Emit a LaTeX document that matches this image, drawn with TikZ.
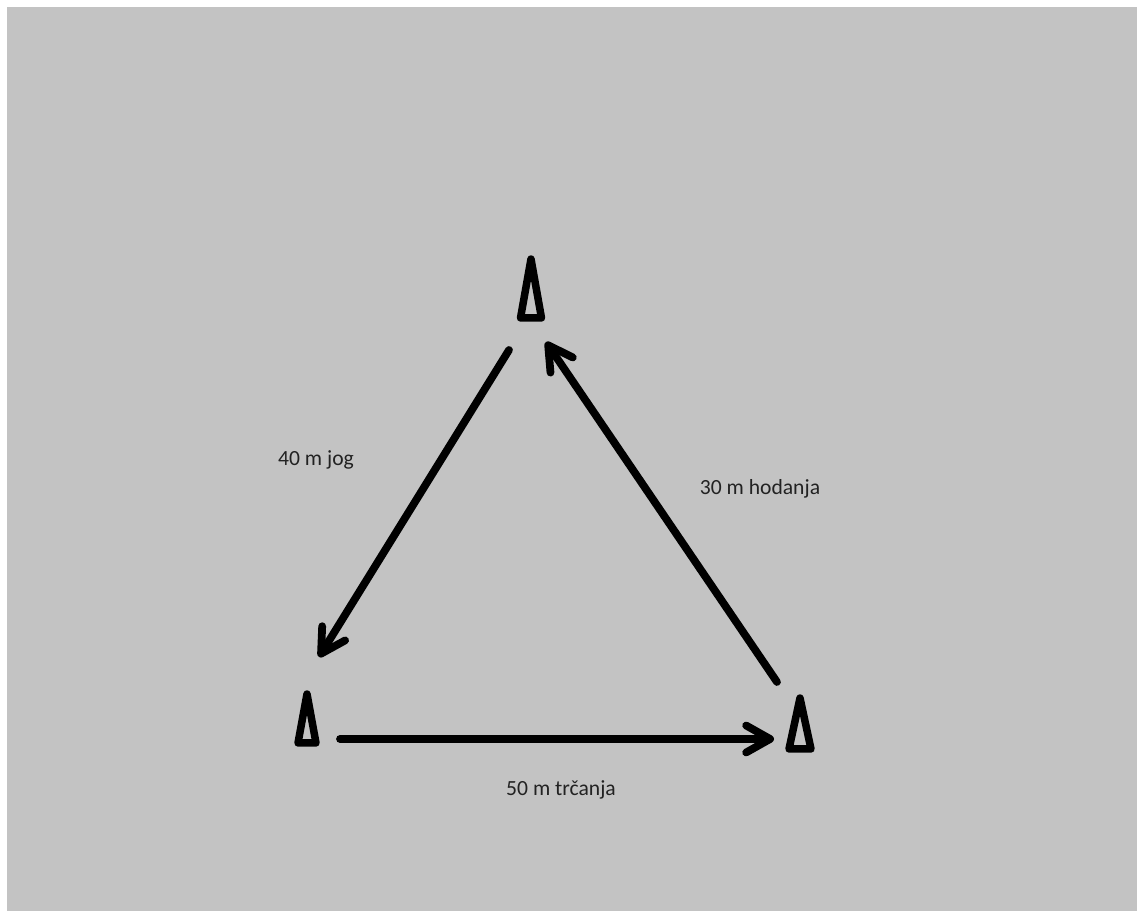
\documentclass[tikz,border=0pt]{standalone}
\usepackage{fontspec}
\setmainfont{Carlito}
\usepackage{tikz}
\usetikzlibrary{ arrows.meta, shapes.geometric }
\definecolor{panel}{HTML}{C3C3C3}
\definecolor{ink}{HTML}{222222}

\begin{document}
\begin{tikzpicture}[
  x=0.02cm, y=-0.02cm,
  every node/.style={font=\fontsize{12.3pt}{14pt}\selectfont, text=ink},
  cone/.style={isosceles triangle, isosceles triangle stretches, shape border rotate=90,
               draw=black, line width=0.15cm, line join=round, inner sep=0pt, outer sep=0pt,
               anchor=south},
  leg/.style={line width=0.155cm, line cap=round, draw=black,
              -{Straight Barb[length=0.48cm, width=0.54cm, round]}},
]
  \useasboundingbox (0,0) rectangle (1137,911);
  \fill[panel] (7,7) rectangle (1137,911);
  % cones
  \node[cone, minimum width=0.42cm, minimum height=1.18cm] (topcone) at (531,318) {};
  \node[cone, minimum width=0.36cm, minimum height=0.98cm] (leftcone) at (307,743) {};
  \node[cone, minimum width=0.44cm, minimum height=1.02cm] (rightcone) at (800,749) {};
  % ends of the legs
  \coordinate (topout) at (509,350);
  \coordinate (leftin) at (319,657);
  \coordinate (leftout) at (340,739);
  \coordinate (rightin) at (774,739);
  \coordinate (rightout) at (777,682);
  \coordinate (topin) at (546,342);
  \draw[leg] (topout) -- (leftin);
  \draw[leg] (leftout) -- (rightin);
  \draw[leg] (rightout) -- (topin);
  % labels
  \node (jog) at (316,460) {40 m jog};
  \node (walk) at (760,489) {30 m hodanja};
  \node (run) at (561,790) {50 m trčanja};
\end{tikzpicture}
\end{document}
